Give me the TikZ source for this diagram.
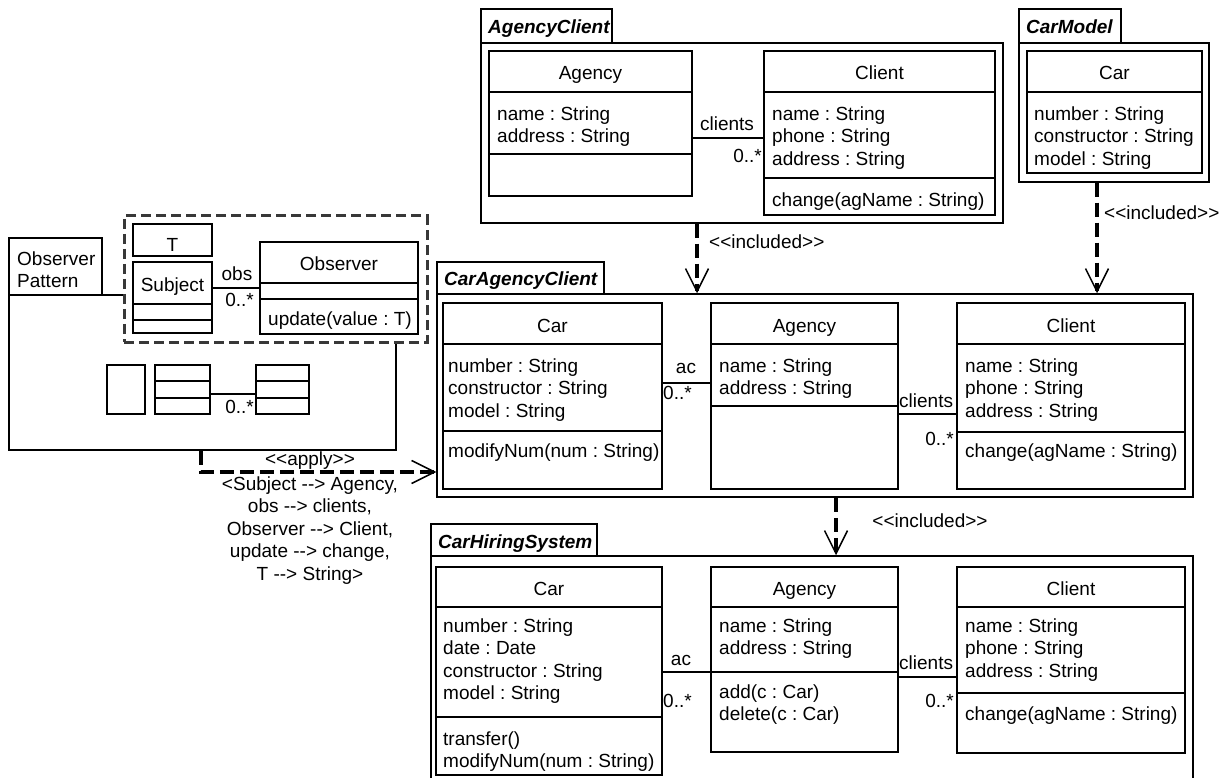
\documentclass[tikz,border=0pt]{standalone}
\usepackage{fontspec}
\setmainfont{Liberation Sans}
\usetikzlibrary{arrows.meta}
\frenchspacing
\newcommand{\umlarr}{-\kern0pt-\kern0pt>}
\newcommand{\umlsto}{<\kern0pt<}
\newcommand{\umlstc}{>\kern0pt>}
\tikzset{
  ln/.style={line width=1.5pt},
  box/.style={draw, line width=1.5pt, fill=white, inner sep=0pt, rectangle},
  ttl/.style={anchor=base, inner sep=0pt},
  attr/.style={anchor=north west, inner sep=0pt, align=left, yshift=15.75pt},
  lbl/.style={inner sep=0pt, anchor=base},
  tabtxt/.style={anchor=base west, inner sep=0pt, font=\fontsize{19}{22.5}\selectfont\bfseries\itshape},
  incl/.style={line width=3.2pt, dash pattern=on 14pt off 6pt, -{Straight Barb[length=23pt,width=23pt,line width=1.5pt]}},
  tpl/.style={draw=black!78, line width=3pt, dash pattern=on 10pt off 5pt, fill=white},
}
\newcommand{\rectnode}[6][]{%
  \node[box,#1, minimum width={#5-#3}, minimum height={#6-#4}] (#2) at ({(#3+#5)/2},{(#4+#6)/2}) {};}
\newcommand{\umlclass}[8]{%
  \rectnode{#1}{#2}{#3}{#4}{#5}
  \draw[ln] (#1.west |- 0,#6) -- (#1.east |- 0,#6);
  \draw[ln] (#1.west |- 0,#7) -- (#1.east |- 0,#7);
  \node[ttl] (#1-t) at ({(#2+#4)/2},{#6-12}) {#8};}
\begin{document}
\begin{tikzpicture}[x=1pt, y=-1pt, font=\fontsize{19}{22.5}\selectfont]
\useasboundingbox (0,0) rectangle (1227,778);
\clip (0,0) rectangle (1227,778);
\fill[white] (0,0) rectangle (1227,778);

% ---------- Observer Pattern ----------
\rectnode{opTab}{9}{238}{102}{295}
\node[attr] (opTabT) at (17,265) {\strut Observer\\Pattern};
\rectnode{opBody}{9}{295}{396}{450}
\rectnode[tpl]{opTpl}{124}{216}{427}{342}
\rectnode{opT}{133}{224}{212}{256}
\node[ttl] (opT-t) at (172.5,252) {T};
\umlclass{opSubj}{133}{262}{212}{333}{304}{320}{Subject}
\umlclass{opObs}{260}{242}{418}{334}{283}{299}{Observer}
\node[attr] (opObs-o) at (268,325) {\strut update(value : T)};
\draw[ln] (opSubj.east |- 0,288) -- (opObs.west |- 0,288);
\node[lbl] (opObsRole) at (237,280) {obs};
\node[lbl, anchor=base east] (opObsMult) at (254,307) {0..*};
% small icons
\rectnode{icA}{107}{365}{145}{414}
\rectnode{icB}{155}{365}{210}{414}
\draw[ln] (icB.west |- 0,381) -- (icB.east |- 0,381);
\draw[ln] (icB.west |- 0,398) -- (icB.east |- 0,398);
\rectnode{icC}{256}{365}{309}{414}
\draw[ln] (icC.west |- 0,381) -- (icC.east |- 0,381);
\draw[ln] (icC.west |- 0,398) -- (icC.east |- 0,398);
\draw[ln] (icB.east |- 0,394) -- (icC.west |- 0,394);
\node[lbl, anchor=base east] (icMult) at (254,413) {0..*};

% ---------- AgencyClient ----------
\rectnode{acTab}{481}{9}{612}{43}
\node[tabtxt] (acTabT) at (488,34) {AgencyClient};
\rectnode{acBody}{481}{43}{1003}{223}
\umlclass{acAgency}{489}{51}{692}{196}{92}{154}{Agency}
\node[attr] (acAgency-a) at (497,120) {\strut name : String\\address : String};
\umlclass{acClient}{764}{51}{995}{215}{92}{178}{Client}
\node[attr] (acClient-a) at (772,120) {\strut name : String\\phone : String\\address : String};
\node[attr] (acClient-o) at (772,206) {\strut change(agName : String)};
\draw[ln] (acAgency.east |- 0,138) -- (acClient.west |- 0,138);
\node[lbl] (acRole) at (727,131) {clients};
\node[lbl, anchor=base east] (acMult) at (762,163) {0..*};

% ---------- CarModel ----------
\rectnode{cmTab}{1019}{9}{1121}{43}
\node[tabtxt] (cmTabT) at (1026,34) {CarModel};
\rectnode{cmBody}{1019}{43}{1209}{182}
\umlclass{cmCar}{1027}{51}{1202}{173}{92}{92}{Car}
\node[attr] (cmCar-a) at (1034,120) {\strut number : String\\constructor : String\\model : String};

% ---------- CarAgencyClient ----------
\rectnode{cacTab}{437}{262}{604}{294}
\node[tabtxt] (cacTabT) at (444,286) {CarAgencyClient};
\rectnode{cacBody}{437}{294}{1193}{497}
\umlclass{cacCar}{443}{303}{662}{489}{344}{431}{Car}
\node[attr] (cacCar-a) at (448,372) {\strut number : String\\constructor : String\\model : String};
\node[attr] (cacCar-o) at (448,457) {\strut modifyNum(num : String)};
\umlclass{cacAgency}{711}{303}{898}{489}{344}{406}{Agency}
\node[attr] (cacAgency-a) at (719,372) {\strut name : String\\address : String};
\umlclass{cacClient}{957}{303}{1185}{489}{344}{432}{Client}
\node[attr] (cacClient-a) at (965,372) {\strut name : String\\phone : String\\address : String};
\node[attr] (cacClient-o) at (965,457) {\strut change(agName : String)};
\draw[ln] (cacCar.east |- 0,383) -- (cacAgency.west |- 0,383);
\node[lbl] (cacAcRole) at (686,373) {ac};
\node[lbl, anchor=base west] (cacAcMult) at (663,399) {0..*};
\draw[ln] (cacAgency.east |- 0,414) -- (cacClient.west |- 0,414);
\node[lbl, anchor=base west] (cacClRole) at (899,407) {clients};
\node[lbl, anchor=base east] (cacClMult) at (954,445) {0..*};

% ---------- CarHiringSystem ----------
\rectnode{chsTab}{431}{524}{597}{556}
\node[tabtxt] (chsTabT) at (438,548) {CarHiringSystem};
\rectnode{chsBody}{431}{556}{1193}{800}
\umlclass{chsCar}{436}{567}{662}{775}{607}{717}{Car}
\node[attr] (chsCar-a) at (443,632) {\strut number : String\\date : Date\\constructor : String\\model : String};
\node[attr] (chsCar-o) at (443,745) {\strut transfer()\\modifyNum(num : String)};
\umlclass{chsAgency}{711}{567}{898}{752}{607}{672}{Agency}
\node[attr] (chsAgency-a) at (719,632) {\strut name : String\\address : String};
\node[attr] (chsAgency-o) at (719,698) {\strut add(c : Car)\\delete(c : Car)};
\umlclass{chsClient}{957}{567}{1185}{753}{607}{693}{Client}
\node[attr] (chsClient-a) at (965,632) {\strut name : String\\phone : String\\address : String};
\node[attr] (chsClient-o) at (965,720) {\strut change(agName : String)};
\draw[ln] (chsCar.east |- 0,672) -- (chsAgency.west |- 0,672);
\node[lbl] (chsAcRole) at (681,665) {ac};
\node[lbl, anchor=base west] (chsAcMult) at (663,707) {0..*};
\draw[ln] (chsAgency.east |- 0,677) -- (chsClient.west |- 0,677);
\node[lbl, anchor=base west] (chsClRole) at (899,669) {clients};
\node[lbl, anchor=base east] (chsClMult) at (954,707) {0..*};

% ---------- dependencies ----------
\draw[incl] (acBody.south -| 697,0) -- (cacBody.north -| 697,0);
\node[lbl, anchor=base west] (incl1) at (709,249) {\umlsto included\umlstc};
\draw[incl] (cmBody.south -| 1097,0) -- (cacBody.north -| 1097,0);
\node[lbl, anchor=base west] (incl2) at (1104,220) {\umlsto included\umlstc};
\draw[incl] (cacBody.south -| 836,0) -- (chsBody.north -| 836,0);
\node[lbl] (incl3) at (930,527) {\umlsto included\umlstc};

\draw[incl] (opBody.south -| 201,0) |- (cacBody.west |- 0,472);
\node[lbl] (applyT) at (310,465) {\umlsto apply\umlstc};
\node[anchor=north, inner sep=0pt, align=center, yshift=15.75pt] (applyMap) at (310,490)
  {\strut <Subject \umlarr{} Agency,\\obs \umlarr{} clients,\\Observer \umlarr{} Client,\\update \umlarr{} change,\\T \umlarr{} String>};
\end{tikzpicture}
\end{document}
